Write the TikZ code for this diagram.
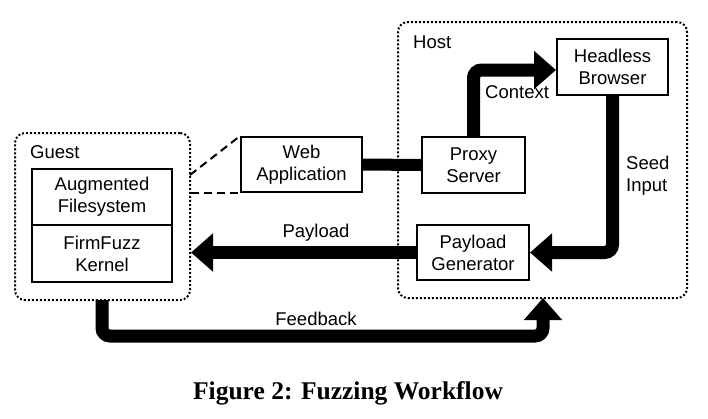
\documentclass[tikz,border=0pt]{standalone}
\usepackage{fontspec}
\setmainfont{Liberation Sans}
\newfontfamily\capfont{Liberation Serif}
\usetikzlibrary{arrows.meta}
\begin{document}
\begin{tikzpicture}[x=1pt,y=-1pt,
  every node/.style={font=\fontsize{18.5}{22}\selectfont, inner sep=0pt},
  blockbox/.style={draw, line width=2pt, align=center},
  region/.style={draw, line width=2pt, dash pattern=on 2pt off 2pt, rounded corners=10pt},
  flow/.style={line width=13pt, rounded corners=8pt, -{Triangle[length=22pt,width=37pt]}},
  link/.style={line width=12pt},
  dashlink/.style={line width=2pt, dash pattern=on 8pt off 5pt}]
\useasboundingbox (0,0) rectangle (708,418);
% regions
\node[region, minimum width=175pt, minimum height=167pt] (guest) at (102.5,216.5) {};
\node[region, minimum width=289pt, minimum height=276pt] (host) at (542.5,160) {};
\node[anchor=west] (guestlbl) at (30,152) {Guest};
\node[anchor=west] (hostlbl) at (413,42) {Host};
% blocks
\node[blockbox, minimum width=140pt, minimum height=56pt] (aug) at (102,197) {Augmented\\Filesystem};
\node[blockbox, minimum width=140pt, minimum height=57pt] (kern) at (102,253.5) {FirmFuzz\\Kernel};
\node[blockbox, minimum width=121pt, minimum height=55pt] (web) at (301.5,164.5) {Web\\Application};
\node[blockbox, minimum width=103pt, minimum height=56pt] (proxy) at (473.5,165) {Proxy\\Server};
\node[blockbox, minimum width=112pt, minimum height=55pt] (pg) at (473,252.5) {Payload\\Generator};
\node[blockbox, minimum width=111pt, minimum height=56pt] (hb) at (612.5,67) {Headless\\Browser};
% dashed links
\coordinate (d1) at (190,175);
\draw[dashlink] (d1) -- (web.north west);
\draw[dashlink] (guest.east |- web.south west) -- (web.south west);
% web - proxy
\draw[link] (web.east) -- (proxy.west);
% context
\coordinate (ctx) at (473.5,70);
\draw[flow] (proxy.north) -- (ctx) -- (hb.west |- ctx);
\node[anchor=west] (ctxlbl) at (485,92) {Context};
% seed input
\draw[flow] (hb.south) |- (pg.east);
\node[anchor=west, align=left] (seedlbl) at (626,175.5) {Seed\\Input};
% payload
\draw[flow] (pg.west) -- (guest.east |- pg.west);
\node (paylbl) at (316,233) {Payload};
% feedback
\coordinate (fb1) at (102,300);
\coordinate (fbl) at (102,336);
\coordinate (fb2) at (543,298);
\draw[flow] (fb1) -- (fbl) -| (fb2);
\node (fblbl) at (316,319) {Feedback};
% caption
\node (cap) at (348,393) {\capfont\bfseries\fontsize{25.5}{30}\selectfont Figure 2: Fuzzing Workflow};
\end{tikzpicture}
\end{document}
